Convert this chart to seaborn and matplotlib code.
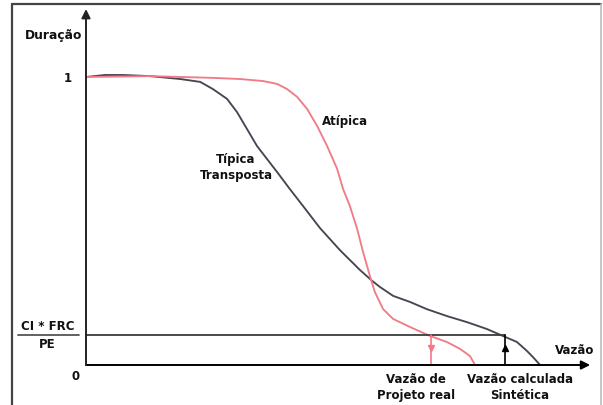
import matplotlib
matplotlib.use("Agg")
import matplotlib.pyplot as plt
from matplotlib.lines import Line2D
import seaborn as sns
import pandas as pd

# ---- data (duration curve, normalized flow vs duration) ----
tipica_x = [0.000, 0.042, 0.081, 0.141, 0.207, 0.251, 0.279, 0.310, 0.332, 0.354,
            0.376, 0.398, 0.420, 0.448, 0.477, 0.514, 0.558, 0.602, 0.629, 0.646,
            0.675, 0.712, 0.749, 0.793, 0.837, 0.881, 0.916, 0.947, 0.969, 0.982, 0.998]
tipica_y = [1.000, 1.007, 1.007, 1.003, 0.993, 0.983, 0.958, 0.924, 0.878, 0.819,
            0.760, 0.715, 0.670, 0.611, 0.552, 0.476, 0.399, 0.330, 0.292, 0.271,
            0.240, 0.219, 0.194, 0.170, 0.149, 0.125, 0.101, 0.080, 0.049, 0.028, 0.000]
atipica_x = [0.000, 0.141, 0.279, 0.338, 0.389, 0.420, 0.442, 0.464, 0.486, 0.508,
             0.530, 0.552, 0.565, 0.580, 0.596, 0.609, 0.624, 0.635, 0.653, 0.675,
             0.712, 0.756, 0.793, 0.822, 0.844, 0.855]
atipica_y = [1.000, 1.003, 0.997, 0.993, 0.986, 0.976, 0.958, 0.931, 0.889, 0.830,
             0.760, 0.681, 0.611, 0.552, 0.472, 0.392, 0.309, 0.253, 0.194, 0.160,
             0.132, 0.101, 0.080, 0.056, 0.031, 0.000]
threshold = 0.104          # CI * FRC / PE
vazao_real = 0.758         # Vazão de Projeto real
vazao_sintetica = 0.921    # Vazão calculada Sintética

y_ticks = [0, 1]
y_tick_labels = ["0", "1"]

sns.set_theme(style="white")
plt.rcParams["font.family"] = ["DejaVu Sans"]

fig = plt.figure(figsize=(6.03, 4.06), dpi=100)
ax = fig.add_axes([0, 0, 1, 1])
ax.set_xlim(-86 / 455, (603 - 86) / 455)
ax.set_ylim(-40 / 288, 366 / 288)
ax.axis("off")

dark = "#4b4352"
pink = "#f07c88"
fs = 8.5

df_t = pd.DataFrame({"x": tipica_x, "y": tipica_y})
df_a = pd.DataFrame({"x": atipica_x, "y": atipica_y})
sns.lineplot(data=df_t, x="x", y="y", sort=False, estimator=None, color=dark, lw=1.35,
             solid_joinstyle="round", ax=ax)
sns.lineplot(data=df_a, x="x", y="y", sort=False, estimator=None, color=pink, lw=1.35,
             solid_joinstyle="round", ax=ax)

# threshold line and verticals
ax.plot([0, vazao_sintetica], [threshold, threshold], color="#3c3c3c", lw=1.3)
ax.plot([vazao_real, vazao_real], [0, threshold], color=pink, lw=1.2)
ax.plot([vazao_sintetica, vazao_sintetica], [0, threshold], color="black", lw=1.2)
ax.plot([vazao_real], [0.058], marker="v", color=pink, ms=4)
ax.plot([vazao_sintetica], [0.058], marker="^", color="black", ms=4)

# axes with arrows
ax.annotate("", xy=(1.108, 0), xytext=(0, 0),
            arrowprops=dict(arrowstyle="-|>", color="black", lw=1.4, mutation_scale=13,
                            shrinkA=0, shrinkB=0))
ax.annotate("", xy=(0, 1.236), xytext=(0, 0),
            arrowprops=dict(arrowstyle="-|>", color="#222222", lw=1.4, mutation_scale=13,
                            shrinkA=0, shrinkB=0))

# texts
kw = dict(fontsize=fs, fontweight="bold", color="#111111", ha="center", va="center")
ax.text(-0.071, 1.149, "Duração", fontsize=8.8, fontweight="bold", color="#111111",
        ha="center", va="center")
for t, lab in zip(y_ticks, y_tick_labels):
    ax.text(-0.040 if t == 1 else -0.022, t if t == 1 else -0.038, lab, **kw)
ax.text(-0.083, (366 - 327) / 288, "CI * FRC", **kw)
ax.plot([(18 - 86) / 455, (79 - 86) / 455], [(366 - 336) / 288] * 2, color="#555555", lw=1.3,
        clip_on=False)
ax.text(-0.086, (366 - 345) / 288, "PE", **kw)
ax.text((575 - 86) / 455, (366 - 351) / 288, "Vazão", **kw)
ax.text((345 - 86) / 455, (366 - 122) / 288, "Atípica", **kw)
ax.text((236 - 86) / 455, (366 - 167) / 288, "Típica\nTransposta", linespacing=1.3, **kw)
ax.text((416 - 86) / 455, (366 - 388) / 288, "Vazão de\nProjeto real", linespacing=1.3, **kw)
ax.text((520 - 86) / 455, (366 - 388) / 288, "Vazão calculada\nSintética", linespacing=1.3, **kw)

# outer frame
fig.add_artist(Line2D([12 / 603, 601 / 603], [1 - 5 / 406] * 2, transform=fig.transFigure,
                      color="#444444", lw=1.6))
fig.add_artist(Line2D([12 / 603] * 2, [0, 1 - 5 / 406], transform=fig.transFigure,
                      color="#444444", lw=1.6))
fig.add_artist(Line2D([601 / 603] * 2, [0, 1 - 5 / 406], transform=fig.transFigure,
                      color="#bbbbbb", lw=1.2))

fig.savefig("out.png", dpi=100)
